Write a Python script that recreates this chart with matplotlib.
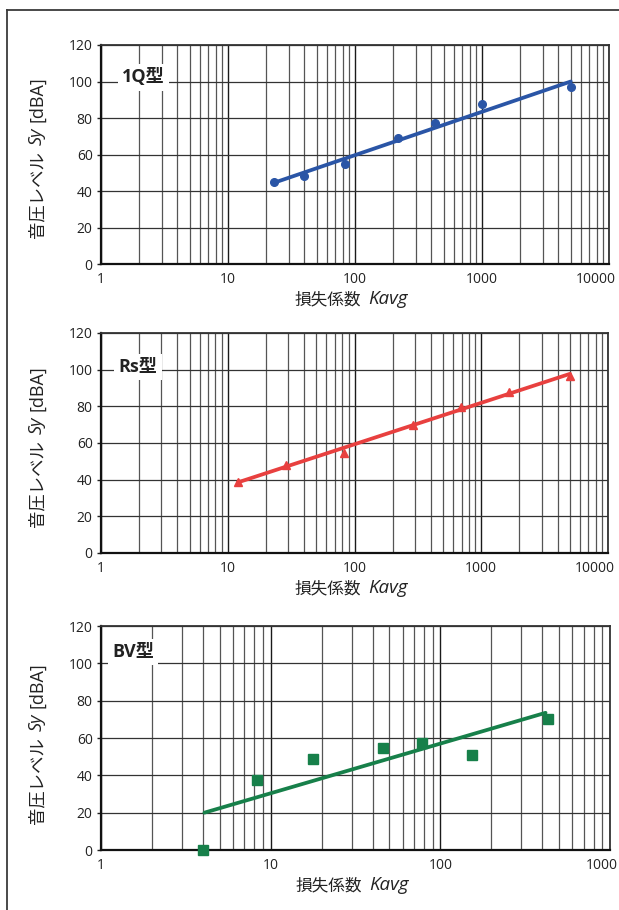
import numpy as np
import matplotlib
matplotlib.use('Agg')
import matplotlib.pyplot as plt
from matplotlib import ticker
from matplotlib.lines import Line2D
from matplotlib.transforms import ScaledTranslation, offset_copy

plt.rcParams['font.family'] = ['Open Sans', 'Noto Sans CJK JP', 'DejaVu Sans']

# 1Q型
q1_k = [23, 40, 83, 220, 430, 1000, 5000]
q1_sy = [45, 48, 55, 69, 77, 87.5, 97]
q1_fit_k = [23, 5000]
q1_fit_sy = [44.5, 100]

# Rs型
rs_k = [12, 29, 82, 290, 690, 1650, 5000]
rs_sy = [38.5, 48, 54.5, 70, 79.5, 88, 96.5]
rs_fit_k = [12, 5000]
rs_fit_sy = [38.5, 97.7]

# BV型
bv_k = [4, 8.3, 17.7, 46, 78, 154, 430]
bv_sy = [0, 37.5, 48.5, 54.5, 57.5, 51, 70]
bv_fit_k = [4.07, 417]
bv_fit_sy = [20, 73.5]

y_ticks = [0, 20, 40, 60, 80, 100, 120]

# label pieces: (text, fontsize, italic, gap before in px)
xlabel_parts = [('損失係数', 12, False, 0), ('Kavg', 13.5, True, 7)]
ylabel_parts = [('音圧レベル', 12.5, False, 0), ('Sy', 13, True, 6), ('[dBA]', 13, False, 6)]

W, H = 619, 910
fig = plt.figure(figsize=(W / 100, H / 100), dpi=100)

# outer frame (left and top edges)
fig.add_artist(Line2D([7 / W, 7 / W], [0, 1 - 10 / H], transform=fig.transFigure,
                      color='#3a3a3a', lw=1.3))
fig.add_artist(Line2D([7 / W, 1], [1 - 10 / H, 1 - 10 / H], transform=fig.transFigure,
                      color='#3a3a3a', lw=1.3))


def make_axes(left, top, right, bottom):
    return fig.add_axes([left / W, 1 - bottom / H, (right - left) / W, (bottom - top) / H])


def text_props(size, italic):
    return dict(fontsize=size, color='#222222',
                style='italic' if italic else 'normal',
                family=['Open Sans', 'Noto Sans CJK JP'])


def chain_xlabel(ax, parts):
    base = offset_copy(ax.transAxes, fig, x=-60, y=-40, units='dots')
    s, size, it, _ = parts[0]
    prev = ax.text(0.5, 0, s, transform=base, ha='left', va='baseline', **text_props(size, it))
    for s, size, it, gap in parts[1:]:
        prev = ax.annotate(s, xy=(1, 0), xycoords=(prev, base), xytext=(gap, 0),
                           textcoords='offset pixels', ha='left', va='baseline',
                           annotation_clip=False, **text_props(size, it))


def chain_ylabel(ax, parts):
    base = offset_copy(ax.transAxes, fig, x=-59, y=26, units='dots')
    s, size, it, _ = parts[0]
    prev = ax.text(0, 0, s, transform=base, rotation=90, rotation_mode='anchor',
                   ha='left', va='baseline', **text_props(size, it))
    for s, size, it, gap in parts[1:]:
        prev = ax.annotate(s, xy=(0, 1), xycoords=(base, prev), xytext=(0, gap),
                           textcoords='offset pixels', rotation=90, rotation_mode='anchor',
                           ha='left', va='baseline', annotation_clip=False,
                           **text_props(size, it))


def style_axes(ax, xmax, name, name_pos, last_shift):
    ax.set_xscale('log')
    ax.set_xlim(1, xmax)
    ax.set_ylim(0, 120)
    xt = [10 ** i for i in range(int(np.log10(xmax)) + 1)]
    ax.set_xticks(xt)
    ax.xaxis.set_major_formatter(ticker.FuncFormatter(lambda v, p: f'{v:g}'))
    ax.xaxis.set_minor_locator(ticker.LogLocator(base=10, subs=np.arange(2, 10), numticks=20))
    ax.xaxis.set_minor_formatter(ticker.NullFormatter())
    ax.set_yticks(y_ticks)
    ax.set_axisbelow(True)
    ax.grid(True, which='major', axis='x', color='#1a1a1a', lw=1.0)
    ax.grid(True, which='minor', axis='x', color='#555555', lw=0.9)
    ax.grid(True, which='major', axis='y', color='#333333', lw=0.9)
    ax.tick_params(axis='x', which='both', length=0, pad=6, labelsize=10, colors='#222222')
    ax.tick_params(axis='y', length=3, width=1, pad=3, labelsize=10, colors='#222222')
    for side in ['left', 'bottom']:
        ax.spines[side].set_linewidth(1.6)
        ax.spines[side].set_color('#111111')
    for side in ['top', 'right']:
        ax.spines[side].set_linewidth(1.3)
        ax.spines[side].set_color('#333333')

    chain_xlabel(ax, xlabel_parts)
    chain_ylabel(ax, ylabel_parts)

    ax.text(name_pos[0], name_pos[1], name, transform=ax.transAxes,
            fontsize=13, fontweight='bold', color='#222222', ha='center', va='center',
            zorder=4, bbox=dict(fc='white', ec='none', pad=3))

    # keep the rightmost tick label inside the frame
    lab = ax.get_xticklabels()[-1]
    lab.set_transform(lab.get_transform() + ScaledTranslation(last_shift / 100, 0, fig.dpi_scale_trans))


ax1 = make_axes(101, 45, 609, 264)
style_axes(ax1, 10000, '1Q型', (0.083, 0.852), -13)
ax1.plot(q1_fit_k, q1_fit_sy, '-', color='#2a55a6', lw=2.7, solid_capstyle='round', zorder=3)
ax1.plot(q1_k, q1_sy, 'o', color='#2a55a6', ms=5.5, zorder=3, clip_on=False)

ax2 = make_axes(101, 333, 608, 553)
style_axes(ax2, 10000, 'Rs型', (0.073, 0.847), -13)
ax2.plot(rs_fit_k, rs_fit_sy, '-', color='#e8403f', lw=2.7, solid_capstyle='round', zorder=3)
ax2.plot(rs_k, rs_sy, '^', color='#e8403f', ms=6, zorder=3, clip_on=False)

ax3 = make_axes(101, 626, 610, 850)
style_axes(ax3, 1000, 'BV型', (0.063, 0.885), -8)
ax3.plot(bv_fit_k, bv_fit_sy, '-', color='#17804a', lw=2.7, solid_capstyle='round', zorder=3)
ax3.plot(bv_k, bv_sy, 's', color='#17804a', ms=6.5, zorder=3, clip_on=False)

fig.savefig('out.png', dpi=100)
